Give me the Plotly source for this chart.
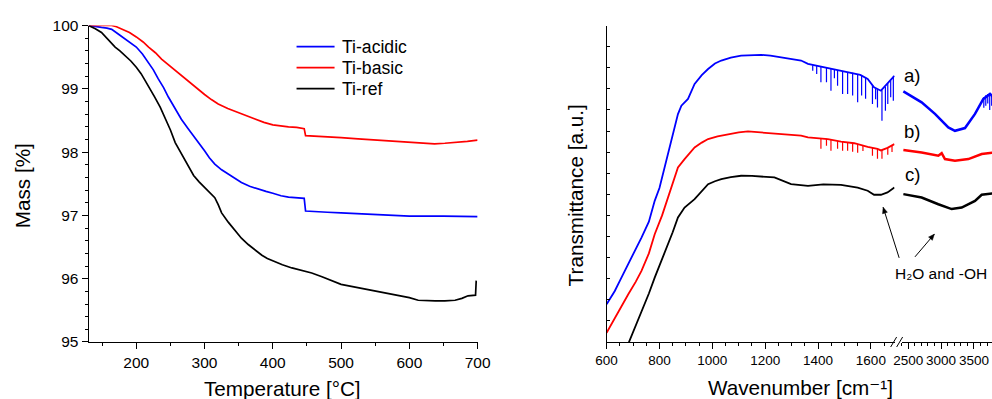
import math
import plotly.graph_objects as go

# The captured picture shows the page slightly shrunk and offset; the figure is laid out
# so that, after that fixed transform, every element lands on the reference pixel.
SX, SY = 0.976, 0.957
OX, OY = 9.5, 8.5
FW = math.ceil((992 - OX) / SX)
FH = math.ceil((399 - OY) / SY)
K = 1 / ((SX + SY) / 2)        # size compensation for fonts / strokes

# ---------------- TGA data (left) ----------------
temp_acidic = [130, 140, 149, 157, 164, 173, 183, 192, 200, 209, 218, 225, 232, 240, 247, 256, 266, 276, 286, 293, 300, 307, 315, 325, 335, 345, 354, 366, 379, 390, 400, 412, 423, 435, 446, 448, 460, 480, 500, 525, 550, 575, 600, 650, 700]
mass_acidic = [100, 99.99, 99.97, 99.96, 99.94, 99.87, 99.79, 99.73, 99.66, 99.55, 99.42, 99.30, 99.16, 99.02, 98.87, 98.70, 98.52, 98.37, 98.23, 98.12, 98.02, 97.91, 97.81, 97.72, 97.65, 97.58, 97.52, 97.46, 97.41, 97.38, 97.35, 97.31, 97.29, 97.28, 97.27, 97.07, 97.06, 97.05, 97.04, 97.03, 97.02, 97.00, 96.99, 96.99, 96.98]

temp_basic = [130, 150, 164, 171, 178, 190, 200, 210, 218, 228, 237, 247, 257, 266, 276, 288, 300, 310, 320, 334, 349, 362, 374, 387, 400, 412, 423, 435, 446, 448, 470, 500, 525, 550, 575, 600, 620, 637, 652, 667, 685, 700]
mass_basic = [100, 100, 100, 99.98, 99.95, 99.89, 99.82, 99.74, 99.66, 99.57, 99.47, 99.38, 99.29, 99.21, 99.13, 99.02, 98.91, 98.83, 98.76, 98.69, 98.63, 98.57, 98.52, 98.47, 98.43, 98.41, 98.40, 98.39, 98.37, 98.26, 98.25, 98.23, 98.21, 98.19, 98.17, 98.15, 98.14, 98.13, 98.14, 98.15, 98.17, 98.19]

temp_ref = [130, 140, 149, 159, 169, 176, 183, 192, 200, 207, 213, 220, 227, 235, 242, 250, 257, 263, 269, 276, 284, 292, 300, 308, 315, 320, 325, 335, 345, 354, 364, 374, 384, 392, 400, 414, 428, 442, 457, 472, 486, 500, 515, 530, 545, 559, 574, 588, 600, 613, 625, 638, 652, 667, 677, 686, 697, 698]
mass_ref = [100, 99.95, 99.89, 99.78, 99.66, 99.60, 99.53, 99.44, 99.34, 99.24, 99.13, 99.01, 98.87, 98.71, 98.55, 98.35, 98.15, 98.03, 97.92, 97.77, 97.63, 97.53, 97.44, 97.36, 97.28, 97.17, 97.04, 96.89, 96.75, 96.64, 96.54, 96.45, 96.37, 96.32, 96.28, 96.22, 96.17, 96.13, 96.09, 96.03, 95.97, 95.91, 95.88, 95.85, 95.81, 95.78, 95.75, 95.73, 95.70, 95.66, 95.65, 95.65, 95.65, 95.66, 95.69, 95.73, 95.74, 95.97]

series_names = ["Ti-acidic", "Ti-basic", "Ti-ref"]
series_colors = ["#0000FF", "#FF0000", "#000000"]

# ---------------- FTIR data (right), low-wavenumber segment ----------------
wn_a1 = [600, 631, 650, 682, 700, 732, 760, 782, 800, 820, 840, 858, 870, 883, 908, 933, 960, 984, 1010, 1034, 1070, 1109, 1150, 1185, 1220, 1260, 1300, 1336, 1362, 1400, 1440, 1487, 1530, 1560, 1588, 1612, 1638, 1663, 1689]
tr_a1 = [1.79, 2.42, 2.9, 3.69, 4.1, 4.95, 5.7, 6.69, 7.3, 8.27, 9.3, 10.17, 10.8, 11.2, 11.52, 12.23, 12.65, 12.94, 13.2, 13.34, 13.48, 13.57, 13.6, 13.61, 13.57, 13.49, 13.42, 13.34, 13.18, 13.08, 12.97, 12.86, 12.76, 12.66, 12.47, 12.07, 11.91, 12.24, 12.62]

wn_b1 = [600, 631, 660, 682, 710, 732, 760, 782, 810, 833, 850, 870, 895, 933, 960, 984, 1020, 1059, 1100, 1135, 1180, 1235, 1290, 1336, 1362, 1400, 1437, 1487, 1537, 1588, 1612, 1625, 1638, 1663, 1689]
tr_b1 = [0.44, 1.15, 1.8, 2.26, 2.85, 3.37, 4.2, 5.11, 6.0, 6.85, 7.5, 8.27, 8.67, 9.22, 9.45, 9.62, 9.75, 9.86, 9.94, 9.98, 9.93, 9.89, 9.84, 9.78, 9.7, 9.66, 9.62, 9.5, 9.42, 9.25, 9.2, 9.15, 9.08, 9.2, 9.38]

wn_c1 = [675, 705, 732, 760, 782, 810, 833, 850, 870, 895, 933, 960, 984, 1010, 1034, 1070, 1109, 1150, 1185, 1235, 1298, 1362, 1420, 1487, 1550, 1588, 1612, 1638, 1663, 1689]
tr_c1 = [-0.3, 0.6, 1.47, 2.3, 3.05, 3.9, 4.64, 5.2, 5.9, 6.37, 6.77, 7.15, 7.48, 7.62, 7.72, 7.82, 7.88, 7.87, 7.85, 7.8, 7.48, 7.4, 7.47, 7.45, 7.32, 7.17, 6.98, 6.98, 7.09, 7.32]

# sharp absorption spikes: wavenumber, baseline, tip
spk_a_wn = [1380, 1395, 1411, 1432, 1449, 1462, 1474, 1493, 1512, 1531, 1550, 1565, 1580, 1606, 1618, 1625, 1642, 1655, 1664, 1675, 1685]
spk_a_top = [13.12, 13.09, 13.05, 12.99, 12.95, 12.92, 12.89, 12.85, 12.8, 12.76, 12.7, 12.64, 12.53, 12.17, 12.0, 11.98, 11.93, 12.1, 12.25, 12.4, 12.58]
spk_a_low = [12.86, 12.7, 12.31, 12.31, 11.91, 12.5, 12.15, 11.76, 11.76, 11.68, 11.36, 11.68, 11.53, 11.28, 11.5, 11.12, 10.49, 10.96, 11.28, 11.6, 11.44]

spk_b_wn = [1411, 1432, 1449, 1474, 1493, 1512, 1531, 1550, 1570, 1606, 1625, 1642, 1664, 1680]
spk_b_top = [9.65, 9.63, 9.58, 9.53, 9.49, 9.46, 9.43, 9.39, 9.32, 9.22, 9.15, 9.1, 9.2, 9.3]
spk_b_low = [9.16, 9.3, 9.06, 9.16, 9.06, 9.06, 9.02, 8.97, 9.05, 8.83, 8.69, 8.69, 8.88, 9.0]

# ---------------- FTIR data (right), high-wavenumber segment ----------------
wn_a2 = [2426, 2550, 2704, 2907, 3110, 3211, 3364, 3516, 3643, 3744, 3796]
tr_a2 = [11.88, 11.65, 11.36, 10.81, 10.17, 10.01, 10.14, 10.81, 11.52, 11.76, 11.6]
wn_b2 = [2426, 2704, 2958, 3009, 3059, 3211, 3415, 3618, 3796]
tr_b2 = [9.1, 8.98, 8.83, 8.95, 8.67, 8.59, 8.67, 8.91, 8.98]
wn_c2 = [2426, 2704, 2958, 3161, 3313, 3516, 3618, 3796]
tr_c2 = [7.01, 6.85, 6.53, 6.3, 6.37, 6.69, 6.98, 7.04]

spk_a2_wn = [3650, 3680, 3710, 3740, 3770, 3790]
spk_a2_top = [11.6, 11.7, 11.76, 11.74, 11.65, 11.6]
spk_a2_low = [11.1, 11.2, 11.3, 11.0, 11.2, 10.1]

panel_labels = ["a)", "b)", "c)"]
panel_label_y = [12.62, 9.97, 7.93]

FONT = "Arial, Liberation Sans, DejaVu Sans, sans-serif"


def px(x):
    """reference-picture x pixel -> paper fraction"""
    return ((x - OX) / SX) / FW


def py(y):
    """reference-picture y pixel -> paper fraction"""
    return 1 - ((y - OY) / SY) / FH


def fs(size):
    return round(size * K, 1)


def spikes(wn, top, low):
    xs, ys = [], []
    for w, t, l in zip(wn, top, low):
        xs += [w, w, None]
        ys += [t, l, None]
    return xs, ys


fig = go.Figure()

# left panel
for t, m, name, col in zip([temp_acidic, temp_basic, temp_ref],
                           [mass_acidic, mass_basic, mass_ref],
                           series_names, series_colors):
    fig.add_trace(go.Scatter(x=t, y=m, mode="lines", name=name, showlegend=False,
                             line=dict(color=col, width=1.7),
                             xaxis="x", yaxis="y"))

# right panel
seg1 = [(wn_a1, tr_a1), (wn_b1, tr_b1), (wn_c1, tr_c1)]
seg2 = [(wn_a2, tr_a2), (wn_b2, tr_b2), (wn_c2, tr_c2)]
for (x1, y1), (x2, y2), col in zip(seg1, seg2, series_colors):
    fig.add_trace(go.Scatter(x=x1, y=y1, mode="lines", showlegend=False,
                             line=dict(color=col, width=1.8), xaxis="x2", yaxis="y2"))
    fig.add_trace(go.Scatter(x=x2, y=y2, mode="lines", showlegend=False,
                             line=dict(color=col, width=2.5), xaxis="x3", yaxis="y2"))

for (w, t, l), col, xa in [((spk_a_wn, spk_a_top, spk_a_low), series_colors[0], "x2"),
                           ((spk_b_wn, spk_b_top, spk_b_low), series_colors[1], "x2"),
                           ((spk_a2_wn, spk_a2_top, spk_a2_low), series_colors[0], "x3")]:
    sx, sy = spikes(w, t, l)
    fig.add_trace(go.Scatter(x=sx, y=sy, mode="lines", showlegend=False,
                             line=dict(color=col, width=1.2), xaxis=xa, yaxis="y2"))

y_dom = [py(341), py(25)]
axis_common = dict(showline=True, linecolor="black", linewidth=1, showgrid=False,
                   zeroline=False, ticks="outside", tickcolor="black", tickwidth=1,
                   mirror=False)

# last wavenumber visible at the right edge, keeping the reference's scale of that segment
x3_end = 2400 + (OX + SX * FW - 900) / (92 / 1400)

fig.update_layout(
    width=FW, height=FH, autosize=False,
    margin=dict(l=0, r=0, t=0, b=0),
    paper_bgcolor="white", plot_bgcolor="white",
    font=dict(family=FONT, color="black"),
    showlegend=False,
    xaxis=dict(axis_common, domain=[px(87), px(476)], range=[130, 700],
               tick0=200, dtick=100, ticklen=6,
               minor=dict(dtick=50, tick0=150, ticklen=3, ticks="outside", tickcolor="black"),
               tickfont=dict(size=fs(15)), anchor="y"),
    yaxis=dict(axis_common, domain=y_dom, range=[95, 100], dtick=1, ticklen=6,
               minor=dict(dtick=0.2, ticklen=3, ticks="outside", tickcolor="black"),
               tickfont=dict(size=fs(15)), anchor="x"),
    xaxis2=dict(axis_common, domain=[px(605), px(893)], range=[600, 1690],
                tick0=600, dtick=200, ticklen=6,
                minor=dict(dtick=50, tick0=600, ticklen=3, ticks="outside", tickcolor="black"),
                tickfont=dict(size=fs(13)), anchor="y2"),
    xaxis3=dict(axis_common, domain=[px(900), 1.0], range=[2400, x3_end],
                tickvals=[2500, 3000, 3500], ticklen=6,
                minor=dict(dtick=100, tick0=2400, ticklen=3, ticks="outside", tickcolor="black"),
                tickfont=dict(size=fs(13)), anchor="y2"),
    yaxis2=dict(axis_common, domain=y_dom, range=[0, 15], dtick=1,
                ticks="inside", ticklen=3, showticklabels=False, anchor="x2"),
)

# legend (drawn in place, as in the reference)
for name, col, ly in zip(series_names, series_colors, [46, 67, 88]):
    fig.add_shape(type="line", xref="paper", yref="paper",
                  x0=px(295), x1=px(333), y0=py(ly), y1=py(ly),
                  line=dict(color=col, width=1.7))
    fig.add_annotation(text=name, x=px(338), y=py(ly), xref="paper", yref="paper",
                       showarrow=False, xanchor="left", yanchor="middle",
                       font=dict(size=fs(17)))

ann = [
    dict(text="Mass [%]", x=px(21), y=py(185), textangle=-90, font=dict(size=fs(20))),
    dict(text="Temperature [°C]", x=px(281), y=py(387), font=dict(size=fs(20))),
    dict(text="Transmittance [a.u.]", x=px(574), y=py(195), textangle=-90, font=dict(size=fs(20))),
    dict(text="Wavenumber [cm⁻¹]", x=px(799), y=py(386), font=dict(size=fs(20))),
    dict(text="H₂O and -OH", x=px(939), y=py(273), font=dict(size=fs(15))),
]
for a in ann:
    a.update(xref="paper", yref="paper", showarrow=False, xanchor="center", yanchor="middle")
    fig.add_annotation(**a)

for lab, yv in zip(panel_labels, panel_label_y):
    fig.add_annotation(text=lab, x=2567, y=yv, xref="x3", yref="y2", showarrow=False,
                       font=dict(size=fs(18)), xanchor="center", yanchor="middle")


# arrows pointing at the water / hydroxyl bands (drawn as shapes, in picture pixels)
def arrow(x0, y0, x1, y1, head=6.0, half=2.5):
    fig.add_shape(type="line", xref="paper", yref="paper",
                  x0=px(x0), y0=py(y0), x1=px(x1), y1=py(y1),
                  line=dict(color="black", width=1))
    ang = math.atan2(y1 - y0, x1 - x0)
    bx, by = x1 - head * math.cos(ang), y1 - head * math.sin(ang)
    nx, ny = -math.sin(ang) * half, math.cos(ang) * half
    pts = [(x1, y1), (bx + nx, by + ny), (bx - nx, by - ny)]
    path = "M " + " L ".join(f"{px(a)} {py(b)}" for a, b in pts) + " Z"
    fig.add_shape(type="path", xref="paper", yref="paper", path=path,
                  fillcolor="black", line=dict(color="black", width=0.5))


arrow(897.5, 257, 881.5, 206.5)
arrow(913.3, 256, 932.7, 233.3)

# axis break marks
for x0 in (889, 895):
    fig.add_shape(type="line", xref="paper", yref="paper",
                  x0=px(x0), y0=py(346), x1=px(x0 + 6), y1=py(336),
                  line=dict(color="black", width=1))

fig.write_html("out.html")
